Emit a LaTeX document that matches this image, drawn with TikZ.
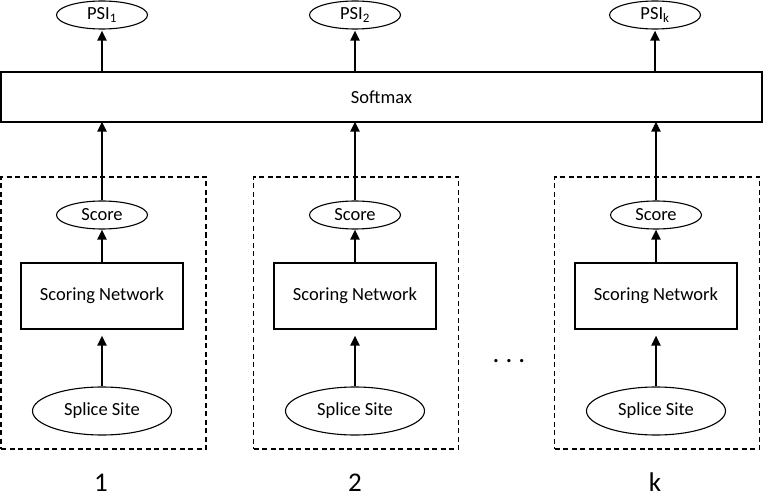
\documentclass[tikz,border=0pt]{standalone}
\usepackage{fontspec}
\setmainfont{Carlito}
\usetikzlibrary{shapes.geometric,arrows.meta}
\begin{document}
\begin{tikzpicture}[x=1pt,y=-1pt,
  lbl/.style={font=\fontsize{18.5}{21}\selectfont},
  big/.style={font=\fontsize{27}{30}\selectfont,inner sep=0pt},
  oval/.style={draw,ellipse,line width=1.1pt,inner sep=0pt,lbl},
  smallov/.style={oval,minimum width=91pt,minimum height=28pt},
  splov/.style={oval,minimum width=139pt,minimum height=48pt},
  netbox/.style={draw,rectangle,line width=1.1pt,minimum width=162pt,minimum height=66pt,inner sep=0pt,lbl},
  grp/.style={draw,rectangle,line width=1.1pt,dash pattern=on 5pt off 3.5pt,minimum width=205pt,minimum height=272pt,inner sep=0pt},
  arr/.style={-{Triangle[length=10pt,width=9pt]},line width=2.2pt}
]
\useasboundingbox (0,0) rectangle (763,497);

% softmax
\node[draw,rectangle,line width=1.2pt,minimum width=761pt,minimum height=50pt,inner sep=0pt,lbl] (sm) at (381.5,97) {Softmax};

% outputs
\node[smallov] (p1) at (102,15) {PSI\textsubscript{1}};
\node[smallov] (p2) at (355,15) {PSI\textsubscript{2}};
\node[smallov] (p3) at (655,15) {PSI\textsubscript{k}};

% groups
\node[grp] (g1) at (103.5,313) {};
\node[grp] (g2) at (356,313) {};
\node[grp] (g3) at (657,313) {};

% score ellipses
\node[smallov] (s1) at (102,215) {Score};
\node[smallov] (s2) at (355,215) {Score};
\node[smallov] (s3) at (656,215) {Score};

% scoring networks
\node[netbox] (n1) at (102,296) {Scoring Network};
\node[netbox] (n2) at (355,296) {Scoring Network};
\node[netbox] (n3) at (656,296) {Scoring Network};

% splice sites
\node[splov] (x1) at (102,411) {Splice Site};
\node[splov] (x2) at (355,411) {Splice Site};
\node[splov] (x3) at (656,411) {Splice Site};

% labels
\node[big,anchor=base] (l1) at (101,491) {1};
\node[big,anchor=base] (l2) at (355,491) {2};
\node[big,anchor=base] (l3) at (655,491) {k};
\node[big,anchor=base] (dots) at (509,362) {.\ .\ .};

% connectors
\foreach \i in {1,2,3}{
  \draw[arr,shorten >=6pt] (x\i.north) -- (x\i.north |- n\i.south);
  \draw[arr] (n\i.north) -- (s\i.south);
  \draw[arr,shorten >=-1pt] (s\i.north) -- (s\i.north |- sm.south);
  \draw[arr,shorten >=1pt] (p\i.south |- sm.north) -- (p\i.south);
}
\end{tikzpicture}
\end{document}
